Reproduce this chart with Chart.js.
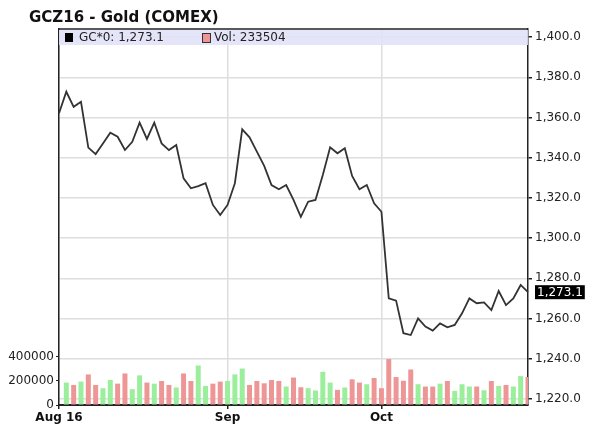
<!DOCTYPE html>
<html>
<head>
<meta charset="utf-8">
<script src="https://cdn.jsdelivr.net/npm/chart.js@4"></script>
<style>
  html, body { margin: 0; padding: 0; background: #fff; }
  #wrap { width: 600px; height: 432px; }
</style>
</head>
<body>
<div id="wrap"><canvas id="goldChart" width="600" height="432"></canvas></div>
<script>
// GCZ16 daily closes, Aug 1 - Oct 31 2016 (one per trading day)
const closes = [
    1362.1, 1372.8, 1365.3, 1367.8, 1345.0, 1341.8, 1347.1, 1352.4, 1350.4, 1343.8,
    1347.9, 1357.4, 1349.3, 1357.4, 1347.1, 1343.8, 1346.3, 1329.7, 1324.8, 1325.9,
    1327.3, 1316.5, 1311.5, 1316.5, 1327.3, 1354.1, 1350.1, 1343.0, 1335.9, 1326.4,
    1324.3, 1326.4, 1319.0, 1310.6, 1318.1, 1319.0, 1331.4, 1345.2, 1342.2, 1344.7,
    1330.9, 1324.3, 1326.4, 1317.3, 1313.1, 1270.0, 1268.9, 1252.7, 1251.8, 1260.1,
    1256.0, 1254.0, 1257.6, 1255.6, 1256.8, 1262.6, 1270.0, 1267.6, 1268.0, 1264.2,
    1273.7, 1266.7, 1270.0, 1276.7, 1273.1
];

const volumes = [
    null, 187000, 167000, 195000, 255000, 167000, 140000, 208000, 178000, 263000,
    132000, 247000, 187000, 178000, 200000, 167000, 146000, 263000, 200000, 329000,
    159000, 178000, 195000, 200000, 255000, 304000, 167000, 200000, 181000, 208000,
    200000, 154000, 229000, 148000, 140000, 121000, 277000, 187000, 126000, 146000,
    214000, 187000, 173000, 225000, 140000, 383000, 233000, 202000, 296000, 173000,
    154000, 154000, 178000, 200000, 118000, 173000, 154000, 154000, 123000, 200000,
    159000, 167000, 154000, 241000, 233504
];

// month boundaries on the trading-day axis
const monthStarts = [0, 23, 44];
const monthLabels = ['Aug 16', 'Sep', 'Oct'];

const priceTicks = [1220, 1240, 1260, 1280, 1300, 1320, 1340, 1360, 1380, 1400];
const volumeTicks = [0, 200000, 400000];

const days = closes.map((_, i) => i);
const FONT = 'DejaVu Sans';
const UP = 'rgb(155,238,155)';
const DOWN = 'rgb(238,150,150)';

const fmtPrice = (v) => v.toLocaleString('en-US', { minimumFractionDigits: 1, maximumFractionDigits: 1 });

// bar colour follows the day's price move
const barColors = closes.map((c, i) => (i > 0 && c < closes[i - 1]) ? DOWN : UP);

const overlay = {
    id: 'overlay',
    beforeDatasetsDraw(chart) {
        const { ctx, chartArea: a } = chart;
        ctx.save();
        ctx.fillStyle = 'rgba(226,226,250,0.9)';
        ctx.fillRect(a.left, a.top + 1, a.right - a.left, 15);
        ctx.restore();
    },
    afterDraw(chart) {
        const { ctx, chartArea: a } = chart;
        const last = closes[closes.length - 1];
        const lastVol = volumes[volumes.length - 1];
        ctx.save();

        // frame top
        ctx.strokeStyle = '#222';
        ctx.lineWidth = 1.5;
        ctx.beginPath();
        ctx.moveTo(a.left, a.top);
        ctx.lineTo(a.right, a.top);
        ctx.stroke();

        // title
        ctx.fillStyle = '#111';
        ctx.font = 'bold 15px "' + FONT + '"';
        ctx.textBaseline = 'middle';
        ctx.fillText('GCZ16 - Gold (COMEX)', 29, 18);

        // in-plot legend
        ctx.font = '12px "' + FONT + '"';
        ctx.fillStyle = '#000';
        ctx.fillRect(65, 33, 8, 9);
        ctx.fillStyle = '#222';
        ctx.fillText('GC*0: ' + fmtPrice(last), 79, 38);
        ctx.fillStyle = DOWN;
        ctx.fillRect(202, 33, 8, 9);
        ctx.strokeStyle = '#333';
        ctx.lineWidth = 1;
        ctx.strokeRect(202.5, 33.5, 8, 9);
        ctx.fillStyle = '#222';
        ctx.fillText('Vol: ' + lastVol, 214, 38);

        // last price tag on the right axis
        const y = chart.scales.y.getPixelForValue(last);
        const label = fmtPrice(last);
        const w = ctx.measureText(label).width + 4;
        ctx.fillStyle = '#000';
        ctx.fillRect(535, y - 7, w, 14);
        ctx.fillStyle = '#fff';
        ctx.fillText(label, 537, y + 0.5);
        ctx.restore();
    }
};

const ctx = document.getElementById('goldChart').getContext('2d');
new Chart(ctx, {
    data: {
        labels: days,
        datasets: [
            {
                type: 'line',
                data: closes,
                yAxisID: 'y',
                borderColor: '#333',
                borderWidth: 1.8,
                pointRadius: 0,
                tension: 0,
                order: 0,
            },
            {
                type: 'bar',
                data: volumes,
                yAxisID: 'vol',
                backgroundColor: barColors,
                barPercentage: 0.68,
                categoryPercentage: 1,
                order: 1,
            },
        ],
    },
    options: {
        responsive: false,
        animation: false,
        layout: { padding: { top: 29, left: 0, right: 0, bottom: 0 } },
        plugins: {
            legend: { display: false },
            tooltip: { enabled: false },
            title: { display: false },
        },
        scales: {
            x: {
                type: 'category',
                offset: false,
                afterBuildTicks: (s) => { s.ticks = monthStarts.map((v) => ({ value: v })); },
                afterFit: (s) => { s.height = 27; },
                ticks: {
                    autoSkip: false,
                    maxRotation: 0,
                    padding: 2,
                    color: '#111',
                    font: { family: FONT, size: 12, weight: 'bold' },
                    callback: (v, i) => monthLabels[i],
                },
                grid: { color: '#dedede', lineWidth: 1.5, tickColor: '#222', tickLength: 4, offset: false },
                border: { color: '#222', width: 2 },
            },
            vol: {
                position: 'left',
                min: 0,
                max: 3133333,
                afterBuildTicks: (s) => { s.ticks = volumeTicks.map((v) => ({ value: v })); },
                afterFit: (s) => { s.width = 59; },
                ticks: {
                    padding: 2,
                    color: '#222',
                    font: { family: FONT, size: 12 },
                    callback: (v) => String(v),
                },
                grid: { drawOnChartArea: false, tickColor: '#222', tickLength: 3 },
                border: { color: '#222', width: 1.5 },
            },
            y: {
                position: 'right',
                min: 1217,
                max: 1404,
                afterBuildTicks: (s) => { s.ticks = priceTicks.map((v) => ({ value: v })); },
                afterFit: (s) => { s.width = 72; },
                ticks: {
                    padding: 3,
                    color: '#222',
                    font: { family: FONT, size: 12 },
                    callback: (v) => fmtPrice(v),
                },
                grid: { color: '#dedede', lineWidth: 1.5, tickColor: '#222', tickLength: 4 },
                border: { color: '#222', width: 1.5 },
            },
        },
    },
    plugins: [overlay],
});
</script>
</body>
</html>
